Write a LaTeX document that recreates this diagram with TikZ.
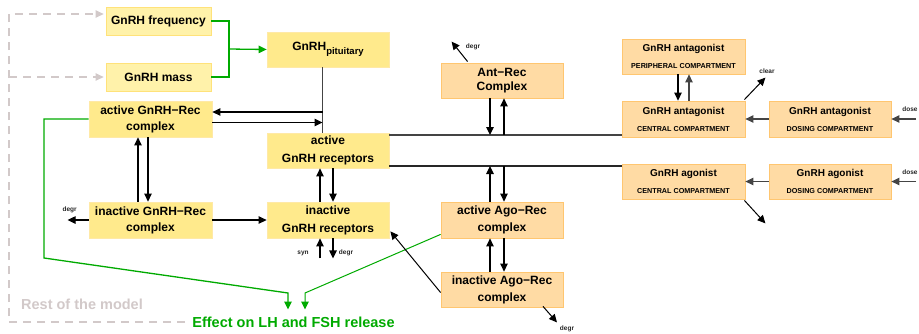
\documentclass[tikz,border=0pt]{standalone}
\usepackage{fontspec}
\setmainfont{Liberation Sans}
\usetikzlibrary{arrows.meta,calc}

\definecolor{boxfill}{HTML}{FFEA8C}
\definecolor{boxline}{HTML}{FFE9A6}
\definecolor{litefill}{HTML}{FFF2AA}
\definecolor{liteline}{HTML}{FFE27A}
\definecolor{orgfill}{HTML}{FFDBA4}
\definecolor{orgline}{HTML}{FFC670}
\definecolor{effgreen}{HTML}{00AA00}
\definecolor{restgray}{HTML}{D2C9C9}
\definecolor{wire}{HTML}{444444}

\newcommand{\cmpt}[2]{{\fontsize{10}{12}\selectfont #1}\\[1pt]{\fontsize{7.2}{8}\selectfont #2}}

\begin{document}
\begin{tikzpicture}[x=1pt,y=-1pt,
  font=\bfseries\fontsize{12}{16}\selectfont,
  basebox/.style={rectangle, align=center, inner sep=0pt, line width=0.8pt},
  ybox/.style={basebox, fill=boxfill, draw=boxline},
  lbox/.style={basebox, fill=litefill, draw=liteline},
  obox/.style={basebox, fill=orgfill, draw=orgline},
  tip/.style={-{Triangle[length=8pt,width=7.5pt]}},
  arr/.style={tip, line width=1.2pt, black},
  garr/.style={arr, wire},
  gline/.style={line width=1.3pt, effgreen},
  greenarr/.style={gline, tip},
  dline/.style={line width=1.1pt, restgray, dash pattern=on 8pt off 6pt},
  dashedarr/.style={dline, tip},
  wireline/.style={line width=1.3pt, wire},
  lbl/.style={font=\bfseries\fontsize{6.5}{7}\selectfont, inner sep=0pt, text=black!85}
]
\useasboundingbox (0,0) rectangle (919,333);

% ---------- boxes ----------
\node[lbox, minimum width=105pt, minimum height=28pt] (freq) at (158.5,21) {GnRH frequency};
\node[lbox, minimum width=105pt, minimum height=28pt] (mass) at (158.5,77) {GnRH mass};
\node[ybox, minimum width=122pt, minimum height=35pt] (pit) at (328,49.5)
  {GnRH\raisebox{-4pt}{\fontsize{9.5}{10}\selectfont pituitary}};
\node[ybox, minimum width=123pt, minimum height=36pt] (aGRC) at (150.5,119) {active GnRH−Rec\\complex};
\node[ybox, minimum width=122pt, minimum height=35pt, font=\bfseries\fontsize{12}{18}\selectfont] (aGR) at (328,150.5) {active\\GnRH receptors};
\node[ybox, minimum width=123pt, minimum height=36pt] (iGRC) at (150.5,220) {inactive GnRH−Rec\\complex};
\node[ybox, minimum width=122pt, minimum height=36pt, font=\bfseries\fontsize{12}{18}\selectfont] (iGR) at (328,220) {inactive\\GnRH receptors};
\node[obox, minimum width=122pt, minimum height=35pt, font=\bfseries\fontsize{12}{14.5}\selectfont] (antrec) at (502,80.5) {Ant−Rec\\Complex};
\node[obox, minimum width=123pt, minimum height=35pt] (antper) at (683.5,56.5) {\cmpt{GnRH antagonist}{PERIPHERAL COMPARTMENT}};
\node[obox, minimum width=123pt, minimum height=36pt] (antcen) at (683.5,119) {\cmpt{GnRH antagonist}{CENTRAL COMPARTMENT}};
\node[obox, minimum width=122pt, minimum height=36pt] (antdos) at (830,119) {\cmpt{GnRH antagonist}{DOSING COMPARTMENT}};
\node[obox, minimum width=123pt, minimum height=35pt] (agocen) at (683.5,181.5) {\cmpt{GnRH agonist}{CENTRAL COMPARTMENT}};
\node[obox, minimum width=122pt, minimum height=35pt] (agodos) at (830,181.5) {\cmpt{GnRH agonist}{DOSING COMPARTMENT}};
\node[obox, minimum width=122pt, minimum height=36pt, font=\bfseries\fontsize{12}{17}\selectfont] (aAR) at (502,220) {active Ago−Rec\\complex};
\node[obox, minimum width=122pt, minimum height=35pt, font=\bfseries\fontsize{12}{17}\selectfont] (iAR) at (502,289.5) {inactive Ago−Rec\\complex};

\node[font=\bfseries\fontsize{14.5}{16}\selectfont, text=effgreen, inner sep=0pt] (effect) at (293.5,322) {Effect on LH and FSH release};
\node[font=\bfseries\fontsize{14.5}{16}\selectfont, text=restgray, inner sep=0pt] (rest) at (82,304.5) {Rest of the model};

% ---------- dashed feedback from the rest of the model ----------
\coordinate (dtop) at (9,14);
\coordinate (dbot) at (9,322);
\coordinate (dend) at (185,322);
\draw[dashedarr, shorten >=2pt] (dend) -- (dbot) -- (dtop) -- (dtop -| freq.west);
\draw[dashedarr, shorten >=2pt] (mass.west -| dtop) -- (mass.west);

% ---------- GnRH signal into the pituitary ----------
\coordinate (gj) at (229,49);
\draw[gline] (freq.east) -| (gj) |- (mass.east);
\draw[greenarr] (gj) -- (pit.west);

% ---------- green effect paths ----------
\coordinate (g1) at (44,258);
\coordinate (g2) at (288,293);
\coordinate (g3) at (305,293);
\coordinate (e1) at (288,309.5);
\coordinate (e2) at (305,309.5);
\coordinate (gs) at ($(aAR.south west)+(0,-4)$);
\draw[greenarr] (aGRC.west) -| (g1) -- (g2) -- (e1);
\draw[greenarr, line width=1pt] (gs) -- (g3) -- (e2);

% ---------- pituitary feed and GnRH-Rec exchange ----------
\coordinate (vx) at (322.5,0);
\draw[wireline] (pit.south -| vx) -- (aGR.north -| vx);
\coordinate (a1) at ($(aGRC.east)+(0,-7)$);
\coordinate (a2) at ($(aGRC.east)+(0,3.5)$);
\draw[arr] (a1 -| vx) -- (a1);
\draw[arr] (a2) -- (a2 -| vx);

\coordinate (c1) at ($(aGRC.south)+(-12.5,0)$);
\coordinate (c2) at ($(aGRC.south)+(-2.5,0)$);
\draw[arr] (c1 |- iGRC.north) -- (c1);
\draw[arr] (c2) -- (c2 |- iGRC.north);

\draw[arr] (iGRC.west) -- ++(-21,0) coordinate (dg1);
\node[lbl] (dg1l) at ($(dg1)+(2,-10)$) {degr};
\draw[arr] (iGRC.east) -- (iGR.west);

% ---------- receptor recycling ----------
\coordinate (r1) at ($(aGR.south)+(-8,0)$);
\coordinate (r2) at ($(aGR.south)+(5,0)$);
\draw[arr] (r1 |- iGR.north) -- (r1);
\draw[arr] (r2) -- (r2 |- iGR.north);
\coordinate (s1) at ($(iGR.south)+(-8,0)$);
\coordinate (s2) at ($(iGR.south)+(5,0)$);
\draw[arr] ($(s1)+(0,20)$) -- (s1);
\draw[arr] (s2) -- ++(0,20) coordinate (s2e);
\node[lbl] (synl) at (303,253) {syn};
\node[lbl] (sdegl) at (346,253) {degr};

% ---------- receptor lines to the drug compartments ----------
\coordinate (hl1) at ($(aGR.east)+(0,-15.5)$);
\coordinate (hl2) at ($(aGR.east)+(0,15.5)$);
\draw[wireline] (hl1) -- (hl1 -| antcen.west);
\draw[line width=1.2pt, black!85] (hl2) -- (hl2 -| agocen.west);

% ---------- antagonist-receptor complex ----------
\coordinate (ar1) at ($(antrec.south)+(-12,0)$);
\coordinate (ar2) at ($(antrec.south)+(2,0)$);
\draw[arr] (ar1) -- (ar1 |- hl1);
\draw[arr] (ar2 |- hl1) -- (ar2);
\draw[arr, line width=1pt] ($(antrec.north west)+(27,-1)$) -- ($(antrec.north west)+(11,-21)$) coordinate (ard);
\node[lbl] (ardl) at (473,47) {degr};

% ---------- agonist-receptor complexes ----------
\coordinate (ag1) at ($(aAR.north)+(-12,0)$);
\coordinate (ag2) at ($(aAR.north)+(2,0)$);
\draw[arr] (ag1) -- (ag1 |- hl2);
\draw[arr] (ag2 |- hl2) -- (ag2);
\coordinate (ai1) at ($(iAR.north)+(-12,0)$);
\coordinate (ai2) at ($(iAR.north)+(2,0)$);
\draw[arr] (ai1) -- (ai1 |- aAR.south);
\draw[arr] (ai2 |- aAR.south) -- (ai2);
\draw[arr, line width=1pt] ($(iAR.west)+(0,3)$) -- ($(iGR.south east)+(1,-7)$);
\draw[arr, line width=1pt] ($(iAR.south)+(41,-1)$) -- ($(iAR.south)+(55,15)$) coordinate (iad);
\node[lbl] (iadl) at (567,329) {degr};

% ---------- antagonist compartments ----------
\coordinate (p1) at ($(antper.south)+(-5.5,0)$);
\coordinate (p2) at ($(antper.south)+(5.5,0)$);
\draw[arr] (p1) -- (p1 |- antcen.north);
\draw[garr] (p2 |- antcen.north) -- (p2);
\draw[arr, line width=1pt] ($(antcen.north east)+(-1,-1)$) -- ++(21,-22) coordinate (clr1);
\node[lbl] (clr1l) at (767,71) {clear};
\draw[garr] (antdos.west) -- (antcen.east);
\coordinate (ds1) at (916,119);
\draw[garr] (ds1) -- (antdos.east);
\node[lbl] (ds1l) at (910,109) {dose};

% ---------- agonist compartments ----------
\draw[garr] (agodos.west) -- (agocen.east);
\coordinate (ds2) at (916,181.5);
\draw[garr] (ds2) -- (agodos.east);
\node[lbl] (ds2l) at (910,172) {dose};
\draw[arr, line width=1pt] ($(agocen.south east)+(-1,1)$) -- ++(21,23) coordinate (clr2);
\end{tikzpicture}
\end{document}
